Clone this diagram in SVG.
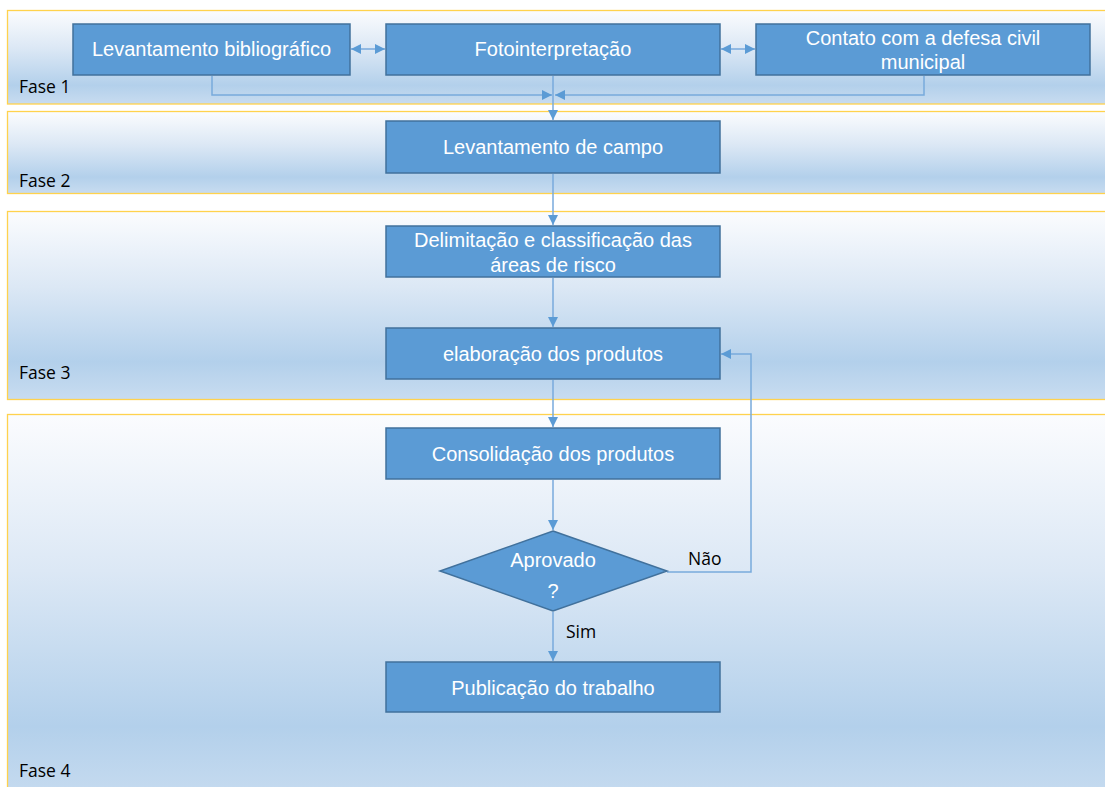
<svg xmlns="http://www.w3.org/2000/svg" width="1105" height="787" viewBox="0 0 1105 787">
<defs>
<linearGradient id="lane" x1="0" y1="0" x2="0" y2="1">
<stop offset="0" stop-color="#fbfcfe"/>
<stop offset="0.4" stop-color="#dce8f5"/>
<stop offset="0.8" stop-color="#b3d0eb"/>
<stop offset="1" stop-color="#c8dcf0"/>
</linearGradient>
<marker id="ah" viewBox="0 0 10 10" refX="10" refY="5" markerWidth="10" markerHeight="10" markerUnits="userSpaceOnUse" orient="auto-start-reverse">
<path d="M0,0 L10,5 L0,10 Z" fill="#5b9bd5"/>
</marker>
<style>
.lane{fill:url(#lane);stroke:#ffd24d;stroke-width:1.3}
.box{fill:#5b9bd5;stroke:#41719c;stroke-width:1.5}
.bt{font-family:"Liberation Sans",Arial,sans-serif;font-size:20px;fill:#ffffff;text-anchor:middle}
.ft{font-family:"Open Sans","Noto Sans",sans-serif;font-size:17.5px;fill:#000000}
.lb{font-family:"Open Sans","Noto Sans",sans-serif;font-size:17.5px;fill:#000000}
.cn{fill:none;stroke:#78aadc;stroke-width:1.5}
</style>
</defs>
<g id="lanes">
<rect class="lane" x="7.5" y="10.5" width="1110" height="93.5"/>
<rect class="lane" x="7.5" y="111.5" width="1110" height="82"/>
<rect class="lane" x="7.5" y="211.5" width="1110" height="188"/>
<rect class="lane" x="7.5" y="414.5" width="1110" height="390"/>
<text class="ft" x="19" y="93">Fase 1</text>
<text class="ft" x="19" y="187">Fase 2</text>
<text class="ft" x="19" y="379">Fase 3</text>
<text class="ft" x="19" y="777">Fase 4</text>
</g>
<g id="connectors">
<line class="cn" x1="351" y1="49" x2="385" y2="49" marker-start="url(#ah)" marker-end="url(#ah)"/>
<line class="cn" x1="721" y1="49" x2="755" y2="49" marker-start="url(#ah)" marker-end="url(#ah)"/>
<polyline class="cn" points="212,76 212,95 552,95" marker-end="url(#ah)"/>
<polyline class="cn" points="924,76 924,95 555,95" marker-end="url(#ah)"/>
<line class="cn" x1="553" y1="76" x2="553" y2="120" marker-end="url(#ah)"/>
<line class="cn" x1="553" y1="174" x2="553" y2="225" marker-end="url(#ah)"/>
<line class="cn" x1="553" y1="278" x2="553" y2="327" marker-end="url(#ah)"/>
<line class="cn" x1="553" y1="380" x2="553" y2="427" marker-end="url(#ah)"/>
<line class="cn" x1="553" y1="480" x2="553" y2="530" marker-end="url(#ah)"/>
<polyline class="cn" points="667,572 751,572 751,354 721,354" marker-end="url(#ah)"/>
<line class="cn" x1="553" y1="612" x2="553" y2="661" marker-end="url(#ah)"/>
<text class="lb" x="688" y="565">Não</text>
<text class="lb" x="566" y="638">Sim</text>
</g>
<g id="n1"><rect class="box" x="73" y="24" width="277" height="51"/><text class="bt" x="211.5" y="56">Levantamento bibliográfico</text></g>
<g id="n2"><rect class="box" x="386" y="24" width="334" height="51"/><text class="bt" x="553" y="56">Fotointerpretação</text></g>
<g id="n3"><rect class="box" x="756" y="24" width="334" height="51"/><text class="bt" x="923" y="45">Contato com a defesa civil</text><text class="bt" x="923" y="69">municipal</text></g>
<g id="n4"><rect class="box" x="386" y="121" width="334" height="52"/><text class="bt" x="553" y="154">Levantamento de campo</text></g>
<g id="n5"><rect class="box" x="386" y="226" width="334" height="51"/><text class="bt" x="553" y="247">Delimitação e classificação das</text><text class="bt" x="553" y="272">áreas de risco</text></g>
<g id="n6"><rect class="box" x="386" y="328" width="334" height="51"/><text class="bt" x="553" y="361">elaboração dos produtos</text></g>
<g id="n7"><rect class="box" x="386" y="428" width="334" height="51"/><text class="bt" x="553" y="461">Consolidação dos produtos</text></g>
<g id="n8"><polygon class="box" points="553,531 667,571 553,611 440,571"/><text class="bt" x="553" y="567">Aprovado</text><text class="bt" x="553" y="598">?</text></g>
<g id="n9"><rect class="box" x="386" y="662" width="334" height="50"/><text class="bt" x="553" y="695">Publicação do trabalho</text></g>
</svg>
